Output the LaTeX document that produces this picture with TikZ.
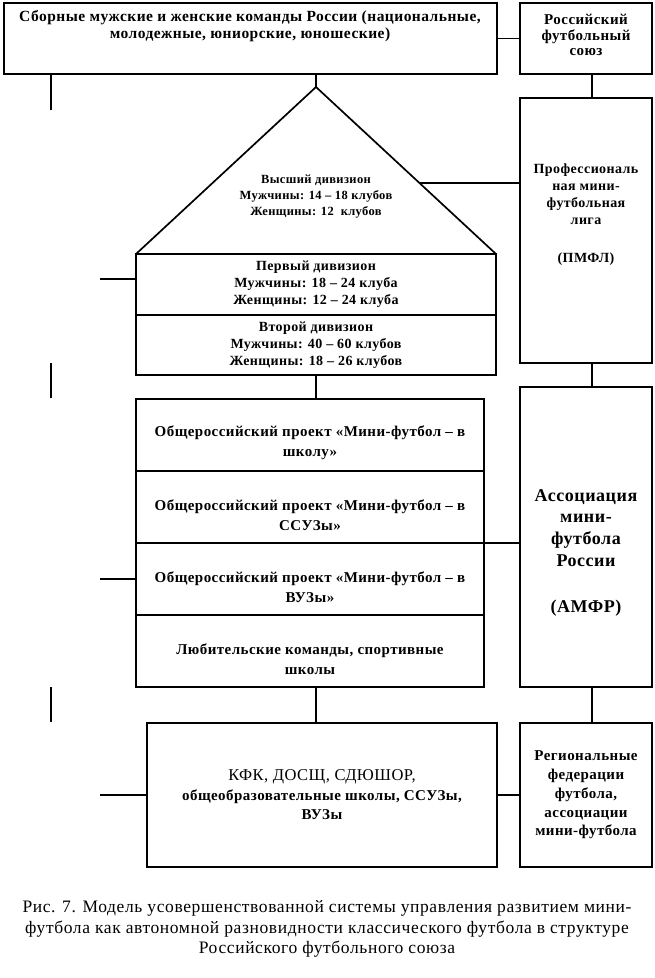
\documentclass[tikz,border=0pt]{standalone}
\usepackage{fontspec}
\setmainfont{Liberation Serif}
\newfontfamily\mfboxfont[LetterSpace=3]{Liberation Serif}
\newfontfamily\mfcapfont[LetterSpace=3.5]{Liberation Serif}
\usetikzlibrary{calc,positioning}
\tikzset{
  mf box/.style={draw=black, line width=1.7pt, inner sep=0pt, outer sep=0pt,
    align=center, anchor=north west, font=\mfboxfont\bfseries},
  mf link/.style={draw=black, line width=1.7pt},
  mf text/.style={align=center, inner sep=0pt, font=\mfboxfont\bfseries},
  mf caption/.style={align=center, inner sep=0pt, font=\mfcapfont\fontsize{17.5}{20.5}\selectfont}
}

\begin{document}
\begin{tikzpicture}[x=1pt, y=-1pt]
  \useasboundingbox (0,0) rectangle (655,978);
  % top row
  \node[mf box, minimum width=493pt, minimum height=71pt] (teams) at (4,3) {};
  \node[mf text, font=\mfboxfont\bfseries\fontsize{15.5}{17}\selectfont] (teamstext) at (250,26)
    {Сборные мужские и женские команды России (национальные,\\молодежные, юниорские, юношеские)};
  \node[mf box, minimum width=132pt, minimum height=71pt] (rfs) at (520,3) {};
  \node[mf text, font=\mfboxfont\bfseries\fontsize{15}{15.5}\selectfont] (rfstext) at (586,35)
    {Российский\\футбольный\\союз};

  % pyramid
  \coordinate (apex) at (316,87);
  \coordinate (baseL) at (136,254);
  \coordinate (baseR) at (496,254);
  \draw[mf link, line join=miter] (baseL) -- (apex) -- (baseR);
  \node[mf text, font=\mfboxfont\bfseries\fontsize{12.5}{16}\selectfont] (top) at (316,197)
    {Высший дивизион\\Мужчины: 14 – 18 клубов\\Женщины: 12~ клубов};
  \node[mf box, minimum width=360pt, minimum height=61pt, font=\mfboxfont\bfseries\fontsize{14}{17}\selectfont]
    (div1) at (baseL) {Первый дивизион\\Мужчины: 18 – 24 клуба\\Женщины: 12 – 24 клуба};
  \node[mf box, minimum width=360pt, minimum height=60pt, font=\mfboxfont\bfseries\fontsize{14}{17}\selectfont,
    below=0pt of div1] (div2) {Второй дивизион\\Мужчины: 40 – 60 клубов\\Женщины: 18 – 26 клубов};

  % projects
  \node[mf box, minimum width=348pt, minimum height=72pt] (p1) at (136,399) {};
  \node[mf box, minimum width=348pt, minimum height=72pt, below=0pt of p1] (p2) {};
  \node[mf box, minimum width=348pt, minimum height=72pt, below=0pt of p2] (p3) {};
  \node[mf box, minimum width=348pt, minimum height=72pt, below=0pt of p3] (p4) {};
  \foreach \cell/\lab in {p1/{Общероссийский проект «Мини-футбол – в\\школу»},
      p2/{Общероссийский проект «Мини-футбол – в\\ССУЗы»},
      p3/{Общероссийский проект «Мини-футбол – в\\ВУЗы»},
      p4/{Любительские команды, спортивные\\школы}} {
    \node[mf text, font=\mfboxfont\bfseries\fontsize{15}{20}\selectfont] (\cell text)
      at ([yshift=-8pt]\cell.center) {\lab};
  }

  % right column
  \node[mf box, minimum width=132pt, minimum height=265pt] (pmfl) at (520,98) {};
  \node[mf text, font=\mfboxfont\bfseries\fontsize{14}{16.7}\selectfont] (pmfltext) at (586,215)
    {Профессиональ\\ная мини-\\футбольная\\лига\\[22pt](ПМФЛ)};
  \node[mf box, minimum width=132pt, minimum height=300pt] (amfr) at (520,387) {};
  \node[mf text, font=\mfboxfont\bfseries\fontsize{18}{21.7}\selectfont] (amfrtext) at (586,553)
    {Ассоциация\\мини-\\футбола\\России\\[25pt](АМФР)};

  % bottom row
  \node[mf box, minimum width=350pt, minimum height=144pt, font=\mfboxfont\bfseries\fontsize{15}{19.5}\selectfont]
    (kfk) at (147,723) {{\mdseries\fontsize{16.5}{19.5}\selectfont КФК, ДОСЩ, СДЮШОР,}\\общеобразовательные школы, ССУЗы,\\ВУЗы};
  \node[mf box, minimum width=132pt, minimum height=144pt, font=\mfboxfont\bfseries\fontsize{15}{18.75}\selectfont]
    (reg) at (520,723) {Региональные\\федерации\\футбола,\\ассоциации\\мини-футбола};

  % connectors
  \draw[mf link] (teams.east) -- (rfs.west);
  \draw[mf link] ([xshift=6pt]rfs.south) -- ([xshift=6pt]pmfl.north);
  \draw[mf link] ([xshift=6pt]pmfl.south) -- ([xshift=6pt]amfr.north);
  \draw[mf link] ([xshift=6pt]amfr.south) -- ([xshift=6pt]reg.north);
  \draw[mf link] (apex |- teams.south) -- (apex);
  \coordinate (edge) at ($(apex)!0.575!(baseR)$);
  \draw[mf link] (edge) -- (edge -| pmfl.west);
  \draw[mf link] (div2.south) -- (div2.south |- p1.north);
  \draw[mf link] (p2.south east) -- (p2.south east -| amfr.west);
  \draw[mf link] (p4.south -| apex) -- (kfk.north -| apex);
  \draw[mf link] (kfk.east) -- (reg.west);
  \coordinate (stub1) at (100,279);
  \coordinate (stub2) at (100,579);
  \coordinate (stub3) at (100,795);
  \draw[mf link] (stub1) -- (stub1 -| div1.west);
  \draw[mf link] (stub2) -- (stub2 -| p3.west);
  \draw[mf link] (stub3) -- (stub3 -| kfk.west);
  \coordinate (spine) at (51,110);
  \draw[mf link] (spine |- teams.south) -- (spine);
  \foreach \ya/\yb in {363/398,687/722}
    \draw[mf link] (51,\ya) -- (51,\yb);

  \node[mf caption] (caption) at (327,929)
    {Рис. 7. Модель усовершенствованной системы управления развитием мини-\\
     футбола как автономной разновидности классического футбола в структуре\\
     Российского футбольного союза};
\end{tikzpicture}
\end{document}
